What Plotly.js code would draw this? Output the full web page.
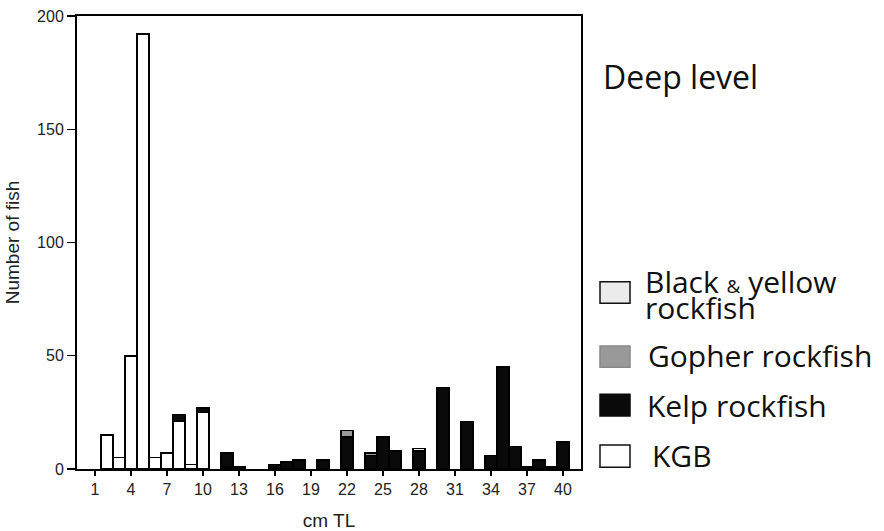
<!DOCTYPE html>
<html>
<head>
<meta charset="utf-8">
<script src="https://cdn.plot.ly/plotly-3.0.1.min.js"></script>
<style>html,body{margin:0;padding:0;background:#fff;}#chart{width:884px;height:531px;}</style>
</head>
<body>
<div id="chart"></div>
<script>
// Length classes (cm TL)
const lengths = Array.from({length: 40}, (_, i) => i + 1);
// Counts per length class (null = no fish)
const kgb = [null,15,5,50,192,5,7,21,2,25,null,1,1,null,null,null,null,null,null,null,null,null,null,null,null,null,null,null,null,null,null,null,null,null,null,null,null,null,null,null];
const kelp = [null,null,null,null,null,null,null,3,null,2,null,6,null,null,null,2,3,4,null,4,null,14,null,6,14,8,null,8,null,36,null,21,null,6,45,10,null,4,null,12];
const gopher = [null,null,null,null,null,null,null,null,null,null,null,null,null,null,null,null,null,null,null,null,null,3,null,1,null,null,null,null,null,null,null,null,null,null,null,null,null,null,null,null];
const blackYellow = [null,null,null,null,null,null,null,null,null,null,null,null,null,null,null,null,null,null,null,null,null,null,null,null,null,null,null,1,null,null,null,null,null,null,null,null,1,null,1,null];
const xTicks = [1,4,7,10,13,16,19,22,25,28,31,34,37,40];
const yTicks = [0,50,100,150,200];
const seriesNames = ["KGB", "Kelp rockfish", "Gopher rockfish", "Black & yellow rockfish"];

const outline = {color: '#000', width: 1.6};
function barTrace(y, name, fill) {
  return {type: 'bar', x: lengths, y: y, name: name, width: 1,
    marker: {color: fill, line: outline}, showlegend: false, hoverinfo: 'x+y+name'};
}
const data = [
  barTrace(kgb, seriesNames[0], '#ffffff'),
  barTrace(kelp, seriesNames[1], '#0a0a0a'),
  barTrace(gopher, seriesNames[2], '#999999'),
  barTrace(blackYellow, seriesNames[3], '#ebebeb')
];

// manual legend (paper coordinates)
const PW = 504, PH = 453, L = 77, B = 469;
const px = v => (v - L) / PW;
const py = v => (B - v) / PH;
const legendBoxes = [
  {y0: 281.7, y1: 303.3, fill: '#ebebeb', line: '#111'},
  {y0: 346, y1: 367.3, fill: '#999999', line: '#888'},
  {y0: 394.3, y1: 416, fill: '#0a0a0a', line: '#0a0a0a'},
  {y0: 445, y1: 467.3, fill: '#ffffff', line: '#111'}
];
const shapes = legendBoxes.map(b => ({type: 'rect', xref: 'paper', yref: 'paper',
  x0: px(600), x1: px(630), y0: py(b.y1), y1: py(b.y0),
  fillcolor: b.fill, line: {color: b.line, width: 1.5}}));

const legFont = {family: 'Open Sans', size: 30, color: '#111'};
function ann(text, x, yc, font, align) {
  return {text: text, xref: 'paper', yref: 'paper', x: px(x), y: py(yc),
    xanchor: 'left', yanchor: 'middle', align: align || 'left', showarrow: false, font: font};
}
const byText = '<span style="font-size:30px">Black </span><span style="font-size:19px">&amp;</span><span style="font-size:30px"> yellow</span><br>' +
  '<span style="font-size:30px">rockfish</span>';
const annotations = [
  ann('Deep level', 601, 76, {family: 'Open Sans', size: 32, color: '#111'}),
  ann(byText, 643, 294, {family: 'Open Sans', size: 20, color: '#111'}, 'left'),
  ann('Gopher rockfish', 646, 355, legFont),
  ann('Kelp rockfish', 645, 405, legFont),
  ann('KGB', 650, 455, legFont)
];

const layout = {
  width: 884, height: 531,
  margin: {l: 77, r: 303, t: 16, b: 62},
  paper_bgcolor: '#fff', plot_bgcolor: '#fff',
  barmode: 'stack', bargap: 0,
  font: {family: 'Liberation Sans, Arial, sans-serif', color: '#222'},
  xaxis: {range: [-0.5, 41.5], tickvals: xTicks, ticktext: xTicks.map(String),
    ticks: 'outside', ticklen: 5, tickwidth: 1.2, tickcolor: '#000',
    showline: true, mirror: true, linecolor: '#000', linewidth: 2,
    showgrid: false, zeroline: false, tickfont: {size: 16, color: '#222'},
    title: {text: 'cm TL', font: {size: 19, color: '#222'}, standoff: 18}},
  yaxis: {range: [0, 200], tickvals: yTicks,
    ticks: 'outside', ticklen: 8, tickwidth: 1.2, tickcolor: '#000',
    showline: true, mirror: true, linecolor: '#000', linewidth: 2,
    showgrid: false, zeroline: false, tickfont: {size: 16, color: '#222'},
    title: {text: 'Number of fish', font: {size: 19, color: '#222'}, standoff: 12}},
  shapes: shapes,
  annotations: annotations,
  showlegend: false
};
Plotly.newPlot('chart', data, layout, {displayModeBar: false, staticPlot: true});
</script>
</body>
</html>
